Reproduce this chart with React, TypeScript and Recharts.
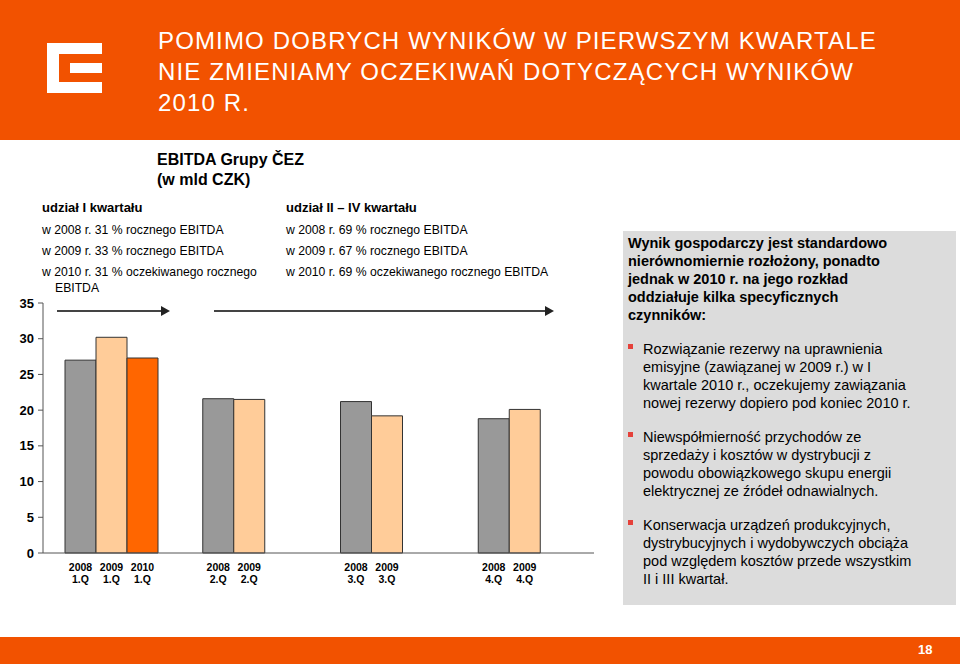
import React from 'react';
import { BarChart, Bar, XAxis, YAxis, LabelList } from 'recharts';

const quarters = ['1.Q', '2.Q', '3.Q', '4.Q'];
const ebitda2008 = [27.0, 21.6, 21.2, 18.8];
const ebitda2009 = [30.2, 21.5, 19.2, 20.1];
const ebitda2010: (number | null)[] = [27.3, null, null, null];
const yTicks = [0, 5, 10, 15, 20, 25, 30, 35];

const titleLines = [
  'POMIMO DOBRYCH WYNIKÓW W PIERWSZYM KWARTALE',
  'NIE ZMIENIAMY OCZEKIWAŃ DOTYCZĄCYCH WYNIKÓW',
  '2010 R.',
];
const q1Lines = ['w 2008 r. 31 % rocznego EBITDA', 'w 2009 r. 33 % rocznego EBITDA', 'w 2010 r. 31 % oczekiwanego rocznego'];
const q24Lines = ['w 2008 r. 69 % rocznego EBITDA', 'w 2009 r. 67 % rocznego EBITDA', 'w 2010 r. 69 % oczekiwanego rocznego EBITDA'];
const boxHeading = [
  'Wynik gospodarczy jest standardowo',
  'nierównomiernie rozłożony, ponadto',
  'jednak w 2010 r. na jego rozkład',
  'oddziałuje kilka specyficznych',
  'czynników:',
];
const bullets = [
  ['Rozwiązanie rezerwy na uprawnienia', 'emisyjne (zawiązanej w 2009 r.) w I', 'kwartale 2010 r., oczekujemy zawiązania', 'nowej rezerwy dopiero pod koniec 2010 r.'],
  ['Niewspółmierność przychodów ze', 'sprzedaży i kosztów w dystrybucji z', 'powodu obowiązkowego skupu energii', 'elektrycznej ze źródeł odnawialnych.'],
  ['Konserwacja urządzeń produkcyjnych,', 'dystrybucyjnych i wydobywczych obciąża', 'pod względem kosztów przede wszystkim', 'II i III kwartał.'],
];

const data = quarters.map((q, i) => ({
  quarter: q,
  y2008: ebitda2008[i],
  y2009: ebitda2009[i],
  y2010: ebitda2010[i],
}));

const FONT = '"Liberation Sans", Arial, sans-serif';
const ORANGE = '#F25200';

// label under each bar: year + quarter
const yearLabel = (year: string, values: (number | null)[]) => (props: any) => {
  const { x, y, width, height, value, index } = props;
  if (index != null && values[index] == null) return null;
  if (x == null || !width) return null;
  const cx = Number(x) + Number(width) / 2;
  const base = Number(y) + Number(height);
  return (
    <g>
      <text x={cx} y={base + 18} textAnchor="middle" fontSize={10.5} fontWeight="bold" fontFamily={FONT} fill="#000">{year}</text>
      <text x={cx} y={base + 30} textAnchor="middle" fontSize={10.5} fontWeight="bold" fontFamily={FONT} fill="#000">{value}</text>
    </g>
  );
};

const Line = ({ left, top, text, bold, size, lh }: any) => (
  <div style={{ position: 'absolute', left, top, fontSize: size, lineHeight: lh + 'px', fontWeight: bold ? 'bold' : 'normal', whiteSpace: 'nowrap' }}>{text}</div>
);

export default function App() {
  return (
    <div style={{ position: 'absolute', left: 0, top: 0, width: 960, height: 664, background: '#fff', fontFamily: FONT, color: '#000', overflow: 'hidden' }}>
      {/* header */}
      <div style={{ position: 'absolute', left: 0, top: 0, width: 960, height: 140, background: ORANGE }} />
      <svg style={{ position: 'absolute', left: 0, top: 0 }} width={960} height={140}>
        <rect x={47} y={43} width={55} height={11} fill="#fff" />
        <rect x={47} y={43} width={12} height={50} fill="#fff" />
        <rect x={47} y={82} width={55} height={11} fill="#fff" />
        <rect x={70} y={63} width={32} height={10} fill="#fff" />
      </svg>
      {titleLines.map((t, i) => (
        <div key={i} style={{ position: 'absolute', left: 158, top: 25 + i * 31, fontSize: 24, lineHeight: '31px', color: '#fff', letterSpacing: 1.15, whiteSpace: 'nowrap' }}>{t}</div>
      ))}

      {/* chart title */}
      <div style={{ position: 'absolute', left: 157, top: 150, fontSize: 16, lineHeight: '20px', fontWeight: 'bold' }}>
        EBITDA Grupy ČEZ<br />(w mld CZK)
      </div>

      {/* annotations */}
      <Line left={42} top={199} text="udział I kwartału" bold size={13} lh={18} />
      {q1Lines.map((t, i) => <Line key={i} left={42} top={221 + i * 21} text={t} size={12.2} lh={18} />)}
      <Line left={55} top={279} text="EBITDA" size={12.2} lh={18} />
      <Line left={286} top={199} text="udział II – IV kwartału" bold size={13} lh={18} />
      {q24Lines.map((t, i) => <Line key={i} left={286} top={221 + i * 21} text={t} size={12.2} lh={18} />)}

      {/* chart */}
      <div style={{ position: 'absolute', left: 0, top: 280 }}>
        <BarChart width={620} height={320} data={data} margin={{ top: 23, right: 26, bottom: 46, left: 0 }} barCategoryGap={22} barGap={0}>
          <XAxis dataKey="quarter" tick={false} tickLine={false} axisLine={{ stroke: '#555' }} height={1} />
          <YAxis
            domain={[0, 35]}
            ticks={yTicks}
            width={43}
            interval={0}
            tickSize={5}
            tickMargin={4}
            axisLine={{ stroke: '#555' }}
            tickLine={{ stroke: '#555' }}
            tick={{ fontSize: 13, fontWeight: 'bold', fill: '#000', fontFamily: FONT }}
          />
          <Bar dataKey="y2008" fill="#999999" stroke="#333" strokeWidth={1} isAnimationActive={false}>
            <LabelList dataKey="quarter" content={yearLabel('2008', ebitda2008)} />
          </Bar>
          <Bar dataKey="y2009" fill="#FFCC99" stroke="#333" strokeWidth={1} isAnimationActive={false}>
            <LabelList dataKey="quarter" content={yearLabel('2009', ebitda2009)} />
          </Bar>
          <Bar dataKey="y2010" fill="#FF6600" stroke="#333" strokeWidth={1} isAnimationActive={false}>
            <LabelList dataKey="quarter" content={yearLabel('2010', ebitda2010)} />
          </Bar>
        </BarChart>
      </div>

      {/* arrows */}
      <svg style={{ position: 'absolute', left: 0, top: 300 }} width={620} height={24}>
        <line x1={57} y1={11} x2={162} y2={11} stroke="#444" strokeWidth={2} />
        <polygon points="161,6 170,11 161,16" fill="#222" />
        <line x1={214} y1={11} x2={546} y2={11} stroke="#444" strokeWidth={2} />
        <polygon points="545,6 554,11 545,16" fill="#222" />
      </svg>

      {/* right box */}
      <div style={{ position: 'absolute', left: 623, top: 231, width: 333, height: 374, background: '#DCDCDC' }} />
      {boxHeading.map((t, i) => <Line key={i} left={628} top={234 + i * 18} text={t} bold size={14.5} lh={18} />)}
      {bullets.map((b, bi) => (
        <React.Fragment key={bi}>
          <div style={{ position: 'absolute', left: 628, top: 344 + bi * 88, width: 5, height: 5, background: '#E5413A' }} />
          {b.map((t, i) => <Line key={i} left={643} top={340 + bi * 88 + i * 18} text={t} size={14.5} lh={18} />)}
        </React.Fragment>
      ))}

      {/* footer */}
      <div style={{ position: 'absolute', left: 0, top: 637, width: 960, height: 27, background: ORANGE }} />
      <div style={{ position: 'absolute', left: 918, top: 642, fontSize: 13, lineHeight: '16px', color: '#fff', fontWeight: 'bold' }}>18</div>
    </div>
  );
}
